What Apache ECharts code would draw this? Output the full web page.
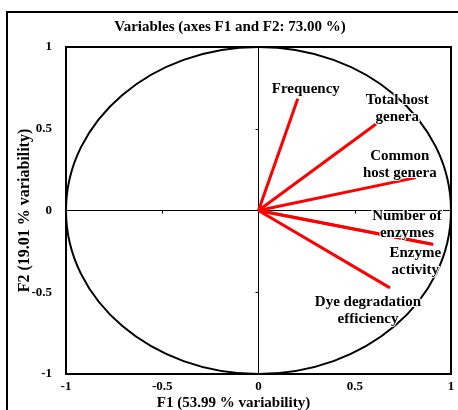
<!DOCTYPE html>
<html>
<head>
<meta charset="utf-8">
<script src="https://cdn.jsdelivr.net/npm/echarts@6/dist/echarts.min.js"></script>
<style>
  html, body { margin: 0; padding: 0; background: #fff; }
  #main { width: 458px; height: 410px; }
</style>
</head>
<body>
<div id="main"></div>
<script>
// variables (correlation circle, F1 / F2)
var varNames = ['Frequency', 'Total host\ngenera', 'Common\nhost genera', 'Number of\nenzymes', 'Enzyme\nactivity', 'Dye degradation\nefficiency'];
var f1 = [0.204, 0.648, 0.817, 0.896, 0.908, 0.683];
var f2 = [0.684, 0.561, 0.201, -0.204, -0.208, -0.473];
var tickValues = [-1, -0.5, 0, 0.5, 1];

// label placement (pixels, relative to arrow tip)
var labelOffsets = [[8, -10], [14, -10], [-16, -13], [-24, -19], [-18, 17], [-22, 23]];

var font = "'Liberation Serif', 'Times New Roman', serif";
var chart = echarts.init(document.getElementById('main'));

var series = [];

// unit circle drawn through the axis scales
series.push({
  type: 'custom',
  silent: true,
  data: [[0, 0]],
  renderItem: function (params, api) {
    var c = api.coord([0, 0]);
    var px = api.coord([1, 0]);
    var py = api.coord([0, 1]);
    return {
      type: 'ellipse',
      shape: { cx: c[0], cy: c[1], rx: px[0] - c[0], ry: c[1] - py[1] },
      style: { fill: 'none', stroke: '#000', lineWidth: 2 }
    };
  },
  z: 2
});

for (var i = 0; i < varNames.length; i++) {
  series.push({
    type: 'line',
    data: [[0, 0], [f1[i], f2[i]]],
    symbol: 'none',
    lineStyle: { color: '#ff0000', width: 3 },
    animation: false,
    z: 3
  });
}

series.push({
  type: 'scatter',
  symbolSize: 0,
  itemStyle: { opacity: 1 },
  data: varNames.map(function (n, i) {
    return {
      value: [f1[i], f2[i]],
      name: n,
      label: { offset: labelOffsets[i] }
    };
  }),
  label: {
    show: true,
    position: 'inside',
    formatter: '{b}',
    fontFamily: font,
    fontWeight: 'bold',
    fontSize: 15,
    lineHeight: 17,
    color: '#000',
    opacity: 1,
    align: 'center',
    verticalAlign: 'middle',
    textBorderColor: '#fff',
    textBorderWidth: 2
  },
  z: 4
});

var option = {
  animation: false,
  title: {
    text: 'Variables (axes F1 and F2: 73.00 %)',
    left: 225,
    textAlign: 'center',
    top: 15,
    textStyle: { fontFamily: font, fontWeight: 'bold', fontSize: 15, color: '#000' }
  },
  grid: {
    left: 66, right: 7, top: 47, bottom: 36,
    outerBoundsMode: 'none',
    containLabel: false,
    show: true,
    borderColor: '#000',
    borderWidth: 2,
    backgroundColor: 'transparent'
  },
  xAxis: [{
    type: 'value',
    min: -1, max: 1, interval: 0.5,
    position: 'bottom',
    name: 'F1 (53.99 % variability)',
    nameLocation: 'middle',
    nameGap: 22,
    nameMoveOverlap: false,
    nameTextStyle: { fontFamily: font, fontWeight: 'bold', fontSize: 15, color: '#000', padding: [0, 50, 0, 0] },
    axisLine: { show: false },
    axisTick: { show: false },
    splitLine: { show: false },
    axisLabel: {
      fontFamily: font, fontWeight: 'bold', fontSize: 13, color: '#000', margin: 6,
      formatter: function (v) { return tickValues.indexOf(v) >= 0 ? String(v) : ''; }
    }
  }, {
    type: 'value',
    min: -1, max: 1, interval: 0.5,
    position: 'bottom',
    axisLine: { show: true, onZero: true, onZeroAxisIndex: 0, lineStyle: { color: '#000', width: 1 } },
    axisTick: { show: true, length: 3, lineStyle: { color: '#000' } },
    axisLabel: { show: false },
    splitLine: { show: false }
  }],
  yAxis: [{
    type: 'value',
    min: -1, max: 1, interval: 0.5,
    position: 'left',
    name: 'F2 (19.01 % variability)',
    nameLocation: 'middle',
    nameGap: 33,
    nameMoveOverlap: false,
    nameTextStyle: { fontFamily: font, fontWeight: 'bold', fontSize: 16, color: '#000' },
    axisLine: { show: false },
    axisTick: { show: false },
    splitLine: { show: false },
    axisLabel: {
      fontFamily: font, fontWeight: 'bold', fontSize: 13, color: '#000', margin: 14,
      formatter: function (v) { return tickValues.indexOf(v) >= 0 ? String(v) : ''; }
    }
  }, {
    type: 'value',
    min: -1, max: 1, interval: 0.5,
    position: 'left',
    axisLine: { show: true, onZero: true, onZeroAxisIndex: 0, lineStyle: { color: '#000', width: 1 } },
    axisTick: { show: true, length: 3, lineStyle: { color: '#000' } },
    axisLabel: { show: false },
    splitLine: { show: false }
  }],
  graphic: [{
    type: 'polyline',
    shape: { points: [[7, 410], [7, 12], [458, 12]] },
    style: { stroke: '#000', lineWidth: 2, fill: 'none' },
    silent: true
  }],
  series: series
};

chart.setOption(option);
</script>
</body>
</html>
